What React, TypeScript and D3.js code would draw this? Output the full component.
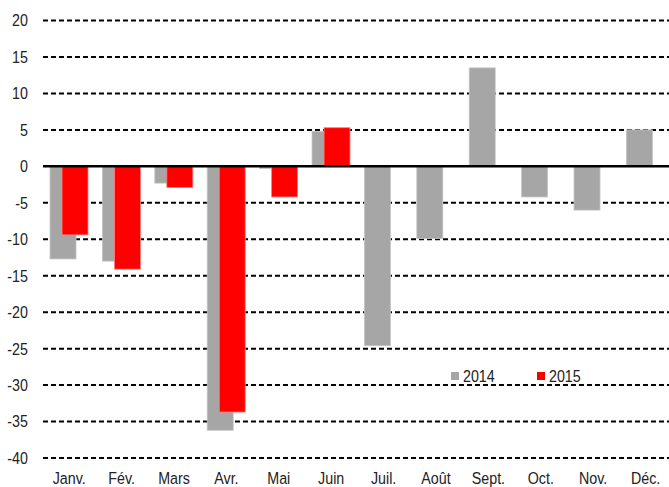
import React from 'react';
import * as d3 from 'd3';

// monthly values
const months = ['Janv.', 'Fév.', 'Mars', 'Avr.', 'Mai', 'Juin', 'Juil.', 'Août', 'Sept.', 'Oct.', 'Nov.', 'Déc.'];
const values2014 = [-12.7, -13.0, -2.3, -36.2, -0.3, 4.8, -24.6, -9.9, 13.5, -4.2, -6.0, 5.0];
const values2015 = [-9.4, -14.1, -2.9, -33.7, -4.2, 5.3, null, null, null, null, null, null];
const yTicks = [20, 15, 10, 5, 0, -5, -10, -15, -20, -25, -30, -35, -40];
const seriesNames = ['2014', '2015'];

const W = 669;
const H = 487;
const FONT = '"Liberation Sans", Arial, sans-serif';
const GRAY = '#a6a6a6';
const RED = '#ff0000';
const SQUEEZE = 0.84; // no narrow font available, so condense the regular one

// condensed text helper
const Label = ({ x, y, anchor, baseline, children }: any) => (
  <text transform={`translate(${x},${y}) scale(${SQUEEZE},1)`} textAnchor={anchor}
    dominantBaseline={baseline} fontFamily={FONT} fontSize={17} fill="#222">{children}</text>
);

export default function App() {
  const x = d3.scaleBand().domain(months).range([43, 671.8]).padding(0);
  const y = d3.scaleLinear().domain([-40, 20]).range([458, 20.5]);
  const bw = x.bandwidth();
  const barW = bw * 0.496;
  const off2014 = bw * 0.134; // gray bar starts a bit inside the band
  const off2015 = bw * 0.363; // red overlaps the gray one

  const bar = (v: number | null, i: number, off: number, color: string, key: string) => {
    if (v === null) return null;
    const x0 = (x(months[i]) as number) + off;
    const yTop = Math.min(y(v), y(0));
    const h = Math.abs(y(v) - y(0));
    return (
      <rect key={key} x={x0} y={yTop} width={barW} height={h} fill={color}
        stroke={color === GRAY ? '#c4c4c4' : '#ff8080'} strokeWidth={0.8} />
    );
  };

  return (
    <svg width={W} height={H} style={{ position: 'absolute', left: 0, top: 0, background: '#fff' }}>
      {/* dashed grid */}
      {yTicks.filter((t) => t !== 0).map((t) => (
        <line key={'g' + t} x1={43} x2={W} y1={y(t)} y2={y(t)} stroke="#000" strokeWidth={2} strokeDasharray="5,3" />
      ))}
      {yTicks.map((t) => (
        <Label key={'t' + t} x={28} y={y(t)} anchor="end" baseline="central">{t}</Label>
      ))}
      {values2014.map((v, i) => bar(v, i, off2014, GRAY, 'a' + i))}
      {values2015.map((v, i) => bar(v, i, off2015, RED, 'b' + i))}
      <line x1={43} x2={W} y1={y(0)} y2={y(0)} stroke="#000" strokeWidth={2.5} />
      {months.map((m) => (
        <Label key={m} x={(x(m) as number) + bw / 2} y={484} anchor="middle">{m}</Label>
      ))}
      {/* legend */}
      {seriesNames.map((s, i) => (
        <g key={s} transform={`translate(${451 + i * 86},372)`}>
          <rect width={8} height={8} fill={i === 0 ? GRAY : RED} />
          <Label x={12} y={9.5}>{s}</Label>
        </g>
      ))}
    </svg>
  );
}
